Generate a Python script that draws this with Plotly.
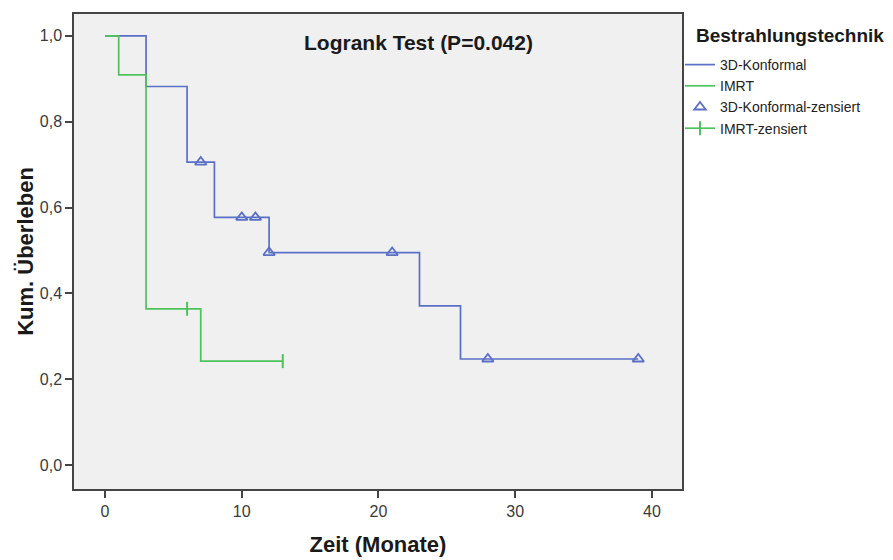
import plotly.graph_objects as go

# Kaplan-Meier step data
konf_t = [0, 3, 6, 8, 12, 23, 26, 39]
konf_s = [1.0, 0.882, 0.706, 0.577, 0.495, 0.371, 0.247, 0.247]
konf_cens_t = [7, 10, 11, 12, 21, 28, 39]
konf_cens_s = [0.706, 0.577, 0.577, 0.495, 0.495, 0.247, 0.247]

imrt_t = [0, 1, 3, 7, 13]
imrt_s = [1.0, 0.909, 0.364, 0.242, 0.242]
imrt_cens_t = [6, 13]
imrt_cens_s = [0.364, 0.242]

x_ticks = [0, 10, 20, 30, 40]
y_ticks = [0.0, 0.2, 0.4, 0.6, 0.8, 1.0]

BLUE = "#5a6fc6"
GREEN = "#4ec35c"
FONT = "Arial, Liberation Sans, sans-serif"
DARK = "#1a1a1a"

fig = go.Figure()
fig.add_trace(go.Scatter(x=konf_t, y=konf_s, mode="lines", line_shape="hv",
                         line=dict(color=BLUE, width=1.7), name="3D-Konformal"))
fig.add_trace(go.Scatter(x=imrt_t, y=imrt_s, mode="lines", line_shape="hv",
                         line=dict(color=GREEN, width=1.7), name="IMRT"))
fig.add_trace(go.Scatter(x=konf_cens_t, y=konf_cens_s, mode="markers",
                         marker=dict(symbol="triangle-up-open", size=10, color=BLUE,
                                     line=dict(width=1.8, color=BLUE)),
                         name="3D-Konformal-zensiert"))
fig.add_trace(go.Scatter(x=imrt_cens_t, y=imrt_cens_s, mode="markers",
                         marker=dict(symbol="line-ns-open", size=10, color=GREEN,
                                     line=dict(width=2, color=GREEN)),
                         showlegend=False, name="IMRT-zensiert"))
# legend entry for IMRT censored (line + tick)
fig.add_trace(go.Scatter(x=[None], y=[None], mode="lines+markers",
                         line=dict(color=GREEN, width=1.7),
                         marker=dict(symbol="line-ns-open", size=10, color=GREEN,
                                     line=dict(width=2, color=GREEN)),
                         name="IMRT-zensiert"))

fig.add_annotation(text="<b>Logrank Test (P=0.042)</b>", xref="paper", yref="paper",
                   x=(418 - 74) / 608, y=(489 - 42) / 475, xanchor="center", yanchor="middle",
                   showarrow=False, font=dict(family=FONT, size=21, color=DARK))
# legend title
fig.add_annotation(text="<b>Bestrahlungstechnik</b>", xref="paper", yref="paper",
                   x=(694 - 74) / 608, y=(489 - 35) / 475, xanchor="left", yanchor="middle",
                   showarrow=False, font=dict(family=FONT, size=19, color=DARK))

axis_common = dict(showgrid=False, zeroline=False, showline=True, linecolor="#444444",
                   linewidth=1.5, mirror=True, ticks="outside", ticklen=7, tickwidth=1.5,
                   tickcolor="#444444", tickfont=dict(family=FONT, size=16, color="#3a3a3a"),
                   automargin=False)

fig.update_layout(
    width=893, height=560,
    margin=dict(l=74, r=211, t=14, b=71),
    paper_bgcolor="white", plot_bgcolor="#f0f0f0",
    separators=", ",
    xaxis=dict(range=[-2.27, 42.2], tickvals=x_ticks, ticktext=[str(v) for v in x_ticks],
               title=dict(text="<b>Zeit (Monate)</b>", font=dict(family=FONT, size=22, color=DARK),
                          standoff=18),
               **axis_common),
    yaxis=dict(range=[-0.056, 1.051], tickvals=y_ticks, tickformat=".1f",
               title=dict(text="<b>Kum. Überleben</b>", font=dict(family=FONT, size=22, color=DARK),
                          standoff=0),
               **axis_common),
    legend=dict(x=(680 - 74) / 608, y=(489 - 49) / 475, xanchor="left", yanchor="top",
                font=dict(family=FONT, size=14, color="#222222"),
                itemwidth=30, tracegroupgap=0, bgcolor="rgba(0,0,0,0)"),
    showlegend=True,
)

fig.write_html("out.html")
